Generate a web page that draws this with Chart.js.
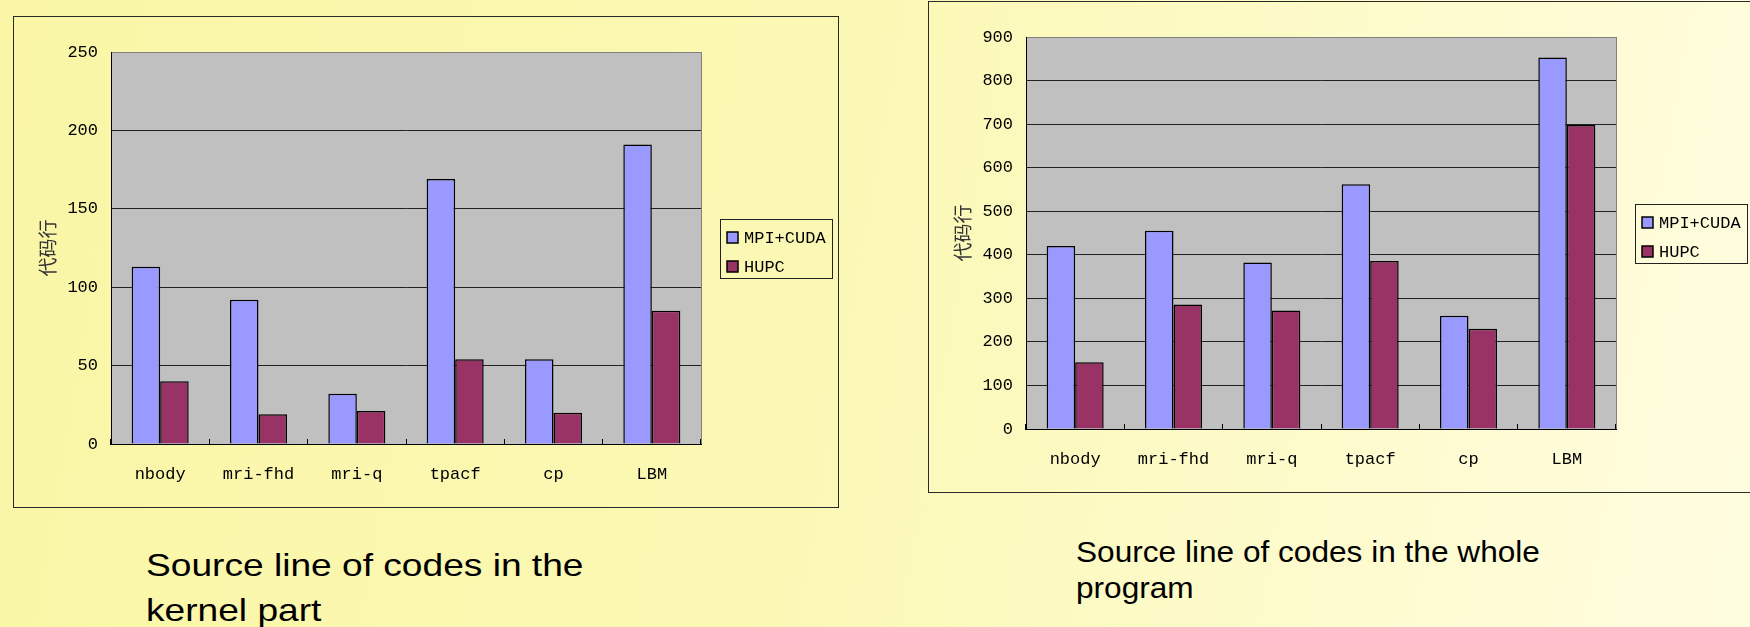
<!DOCTYPE html>
<html>
<head>
<meta charset="utf-8">
<script src="https://cdn.jsdelivr.net/npm/chart.js@4"></script>
<style>
  html, body { margin: 0; padding: 0; }
  body {
    width: 1750px; height: 627px; overflow: hidden; position: relative;
    background: linear-gradient(100deg, #faf6a6 0%, #fbf8b4 45%, #fffde0 100%);
    font-family: "Liberation Sans", Arial, sans-serif;
  }
  .box { position: absolute; width: 826px; height: 492px; box-sizing: border-box; border: 1px solid #2a2a2a; }
  .box canvas { display: block; }
  .caption { position: absolute; color: #000; transform-origin: left top; white-space: nowrap; }
</style>
</head>
<body>
<div class="box" style="left:13px; top:16px;"><canvas id="kernelChart" width="824" height="490"></canvas></div>
<div class="box" style="left:928px; top:1px;"><canvas id="wholeChart" width="824" height="490"></canvas></div>
<div class="caption" style="left:146px; top:543px; font-size:32px; line-height:45px; transform:scaleX(1.16);">Source line of codes in the<br>kernel part</div>
<div class="caption" style="left:1076px; top:534px; font-size:29px; line-height:36px; transform:scaleX(1.09);">Source line of codes in the whole<br>program</div>
<script>
const categories = ['nbody', 'mri-fhd', 'mri-q', 'tpacf', 'cp', 'LBM'];
const seriesNames = ['MPI+CUDA', 'HUPC'];

// kernel part
const kernelMpiCuda = [113, 92, 32, 169, 54, 191];
const kernelHupc = [40, 19, 21, 54, 20, 85];
const kernelTicks = [0, 50, 100, 150, 200, 250];

// whole program
const wholeMpiCuda = [420, 455, 382, 562, 260, 853];
const wholeHupc = [153, 286, 272, 386, 230, 698];
const wholeTicks = [0, 100, 200, 300, 400, 500, 600, 700, 800, 900];

const yTitle = '代码行';
const monoFont = '"Liberation Mono", "DejaVu Sans Mono", monospace';

// grey plot area plus the grey right edge
const plotBackground = {
    id: 'plotBackground',
    beforeDraw(chart) {
        const { ctx, chartArea: a } = chart;
        ctx.save();
        ctx.fillStyle = '#c0c0c0';
        ctx.fillRect(a.left, a.top, a.right - a.left, a.bottom - a.top);
        ctx.restore();
    },
    beforeDatasetsDraw(chart) {
        const { ctx, chartArea: a } = chart;
        ctx.save();
        ctx.strokeStyle = '#808080';
        ctx.lineWidth = 1;
        ctx.beginPath();
        ctx.moveTo(a.right + 0.5, a.top);
        ctx.lineTo(a.right + 0.5, a.bottom);
        ctx.stroke();
        ctx.restore();
    }
};

// boxed legend to the right of the plot
const legendBox = {
    id: 'legendBox',
    afterDraw(chart) {
        const { ctx, chartArea: a } = chart;
        const w = 112, h = 59;
        const x = Math.round(a.right + 19);
        const y = Math.round((a.top + a.bottom) / 2 - h / 2);
        ctx.save();
        ctx.strokeStyle = '#222';
        ctx.lineWidth = 1;
        ctx.strokeRect(x + 0.5, y + 0.5, w, h);
        chart.data.datasets.forEach((ds, i) => {
            const cy = y + 18 + i * 29;
            ctx.fillStyle = ds.backgroundColor;
            ctx.fillRect(x + 7, cy - 5, 11, 11);
            ctx.lineWidth = 1.5;
            ctx.strokeStyle = '#000';
            ctx.strokeRect(x + 7, cy - 5, 11, 11);
            ctx.fillStyle = '#000';
            ctx.font = '17px ' + monoFont;
            ctx.textBaseline = 'middle';
            ctx.fillText(ds.label, x + 24, cy + 1);
        });
        ctx.restore();
    }
};

function makeChart(id, mpi, hupc, ticks) {
    const top = ticks[ticks.length - 1];
    new Chart(document.getElementById(id).getContext('2d'), {
        type: 'bar',
        data: {
            labels: categories,
            datasets: [
                { label: seriesNames[0], data: mpi, backgroundColor: '#9999ff', borderColor: '#000', borderWidth: 1.5 },
                { label: seriesNames[1], data: hupc, backgroundColor: '#993366', borderColor: '#000', borderWidth: 1.5 }
            ]
        },
        options: {
            responsive: false,
            devicePixelRatio: 1,
            animation: false,
            categoryPercentage: 0.58,
            barPercentage: 1,
            layout: { padding: { top: 35, right: 137, bottom: 0, left: 0 } },
            scales: {
                x: {
                    grid: { offset: true, drawOnChartArea: false, drawTicks: true, tickLength: -5, color: '#000' },
                    border: { display: true, color: '#000', width: 1 },
                    ticks: { color: '#000', font: { family: monoFont, size: 17 }, padding: 25 },
                    afterFit(axis) { axis.height = 63; }
                },
                y: {
                    min: 0,
                    max: top,
                    afterBuildTicks(axis) { axis.ticks = ticks.map(v => ({ value: v })); },
                    grid: {
                        drawTicks: false,
                        color: c => (c.tick && c.tick.value === top ? '#808080' : '#222'),
                        lineWidth: 1
                    },
                    border: { display: true, color: '#000', width: 1 },
                    ticks: { color: '#000', font: { family: monoFont, size: 17 }, padding: 13 },
                    title: {
                        display: true,
                        text: yTitle,
                        color: '#333',
                        font: { family: '"Noto Sans CJK SC", sans-serif', size: 19 },
                        padding: { top: 22, bottom: 0 }
                    },
                    afterFit(axis) { axis.width = 97; }
                }
            },
            plugins: {
                legend: { display: false },
                tooltip: { enabled: false }
            }
        },
        plugins: [plotBackground, legendBox]
    });
}

makeChart('kernelChart', kernelMpiCuda, kernelHupc, kernelTicks);
makeChart('wholeChart', wholeMpiCuda, wholeHupc, wholeTicks);
</script>
</body>
</html>
